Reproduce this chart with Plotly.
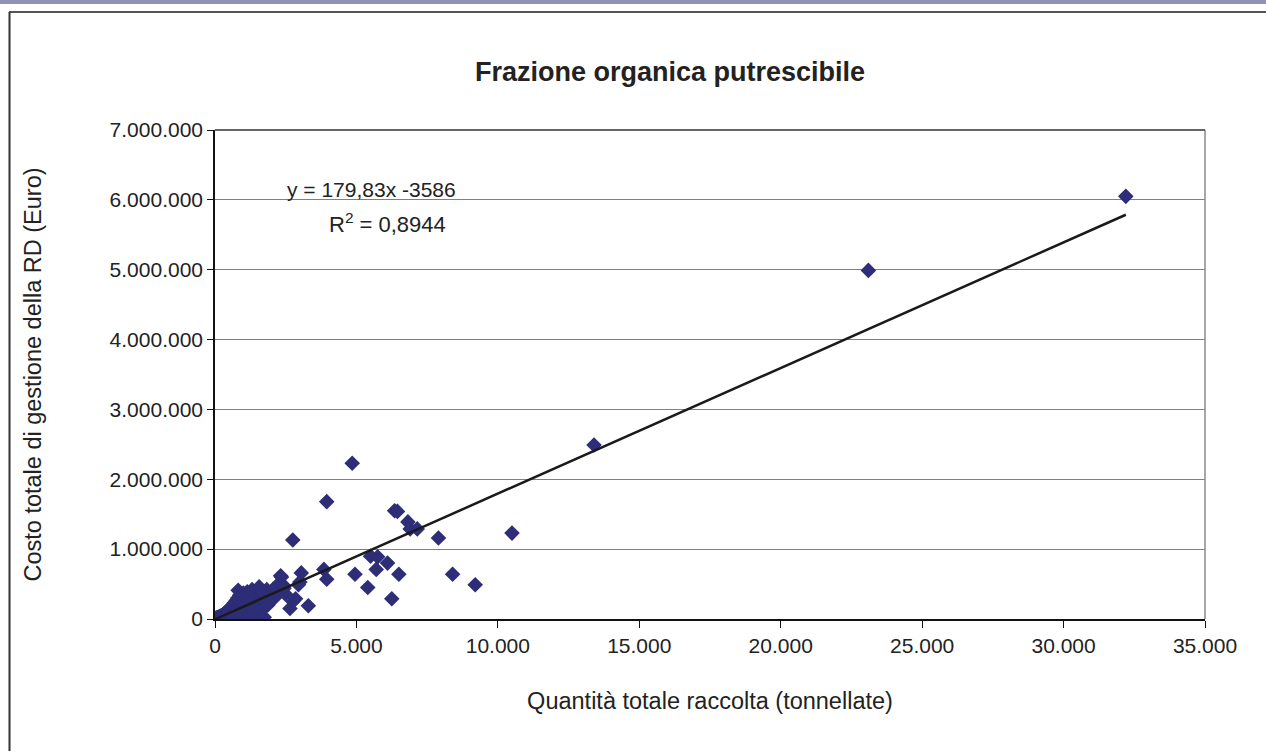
import plotly.graph_objects as go

# Raccolta della frazione organica: quantità (t) e costo totale di gestione (Euro)
tonnellate = [
    32200, 23100, 13400, 10500, 7900, 4850, 3950, 6350, 6450, 6820, 6900, 7150,
    2750, 5500, 5750, 6100, 5700, 4950, 6500, 8400, 5400, 9200, 6250, 3850,
    3950, 3050, 3000, 3300, 2750, 2650, 2350, 2850, 2300, 2950,
    15, 25, 30, 40, 45, 55, 65, 70, 85, 95, 105, 115, 130, 140, 155, 165, 180,
    195, 205, 220, 235, 250, 260, 275, 290, 305, 320, 335, 350, 365, 380, 395,
    410, 425, 440, 455, 470, 485, 500, 515, 530, 545, 560, 580, 595, 610, 630,
    650, 665, 680, 700, 715, 730, 750, 770, 785, 805, 820, 835, 850, 870, 885,
    900, 920, 940, 960, 980, 1000, 1020, 1040, 1060, 1080, 1100, 1120, 1140,
    1160, 1185, 1210, 1235, 1260, 1285, 1310, 1335, 1360, 1390, 1410, 1440,
    1470, 1500, 1530, 1560, 1590, 1620, 1650, 1680, 1710, 1740, 1770, 1800,
    1830, 1870, 1900, 1940, 1980, 2020, 2060, 2100, 2150, 2200, 2240, 2290,
    2320, 2400, 2440, 2480,
]
costo_euro = [
    6050000, 4990000, 2490000, 1230000, 1160000, 2230000, 1680000, 1550000,
    1540000, 1390000, 1290000, 1290000, 1130000, 900000, 890000, 800000,
    710000, 640000, 640000, 640000, 450000, 490000, 290000, 710000, 570000,
    660000, 530000, 190000, 250000, 150000, 600000, 290000, 400000, 490000,
    4000, 9000, 1500, 11000, 2500, 7000, 16000, 4000, 13000, 22000, 6000,
    18000, 27000, 9000, 33000, 21000, 12000, 41000, 30000, 16000, 50000, 36000,
    9000, 58000, 42000, 20000, 74000, 55000, 30000, 90000, 64000, 14000,
    105000, 80000, 45000, 130000, 95000, 25000, 115000, 150000, 70000, 10000,
    135000, 175000, 100000, 40000, 195000, 150000, 85000, 230000, 170000,
    20000, 120000, 265000, 200000, 60000, 300000, 410000, 235000, 150000,
    340000, 30000, 260000, 190000, 310000, 100000, 240000, 370000, 170000,
    280000, 50000, 330000, 210000, 130000, 390000, 260000, 180000, 310000,
    80000, 350000, 230000, 420000, 150000, 290000, 40000, 370000, 250000,
    320000, 180000, 430000, 460000, 270000, 350000, 120000, 300000, 390000,
    25000, 250000, 340000, 420000, 200000, 300000, 380000, 260000, 340000,
    430000, 300000, 380000, 470000, 410000, 520000, 620000, 490000, 440000,
    360000,
]

# Retta di regressione lineare
pendenza = 179.83
intercetta = -3586
r_quadro = 0.8944

x_ticks = [0, 5000, 10000, 15000, 20000, 25000, 30000, 35000]
y_ticks = [0, 1000000, 2000000, 3000000, 4000000, 5000000, 6000000, 7000000]

FONT = "Liberation Sans, Arial, sans-serif"
W, H = 1266, 751
L, R, T, B = 215, 61, 130, 132
PW, PH = W - L - R, H - T - B


def px(x):
    return (x - L) / PW


def py(y):
    return (H - B - y) / PH


fig = go.Figure()

fig.add_trace(go.Scatter(
    x=tonnellate, y=costo_euro, mode="markers",
    marker=dict(symbol="diamond", size=12, color="#2d2d78", line=dict(width=0)),
    showlegend=False, hoverinfo="x+y",
))

x_fit = [min(tonnellate), max(tonnellate)]
y_fit = [pendenza * v + intercetta for v in x_fit]
fig.add_trace(go.Scatter(
    x=x_fit, y=y_fit, mode="lines",
    line=dict(color="#1a1a1a", width=2.5),
    showlegend=False, hoverinfo="skip",
))

fig.update_layout(
    width=W, height=H,
    margin=dict(l=L, r=R, t=T, b=B),
    paper_bgcolor="white", plot_bgcolor="white",
    separators=",.",
    font=dict(family=FONT, size=21, color="#222222"),
    title=dict(
        text="<b>Frazione organica putrescibile</b>",
        font=dict(family=FONT, size=27, color="#222222"),
        x=670 / W, xanchor="center", xref="container",
        y=1 - 72 / H, yanchor="middle", yref="container",
    ),
    xaxis=dict(
        range=[0, 35000], tickvals=x_ticks, tickformat=",d",
        showgrid=False, zeroline=False,
        showline=True, linecolor="#111111", linewidth=1.5,
        ticks="outside", ticklen=7, tickcolor="#111111",
        tickfont=dict(size=21, color="#222222"),
        title=dict(text="Quantità totale raccolta (tonnellate)",
                   font=dict(size=23.5, color="#222222"), standoff=37),
    ),
    yaxis=dict(
        range=[0, 7000000], tickvals=y_ticks, tickformat=",d",
        showgrid=True, gridcolor="#808080", gridwidth=1,
        zeroline=False,
        showline=True, linecolor="#111111", linewidth=1.5,
        ticks="outside", ticklen=6, tickcolor="#111111",
        tickfont=dict(size=21, color="#222222"),
        title=dict(text="Costo totale di gestione della RD (Euro)",
                   font=dict(size=23.5, color="#222222"), standoff=61),
    ),
    shapes=[
        # fascia superiore
        dict(type="rect", xref="paper", yref="paper",
             x0=px(0), x1=px(W), y0=py(4), y1=py(0),
             fillcolor="#9191b6", line=dict(width=0), layer="below"),
        # cornice del grafico
        dict(type="line", xref="paper", yref="paper",
             x0=px(9), x1=px(W), y0=py(12), y1=py(12),
             line=dict(color="#555555", width=2)),
        dict(type="line", xref="paper", yref="paper",
             x0=px(9.5), x1=px(9.5), y0=py(12), y1=py(H),
             line=dict(color="#333333", width=2)),
        # bordo dell'area del tracciato
        dict(type="line", xref="paper", yref="paper",
             x0=1, x1=1, y0=0, y1=1,
             line=dict(color="#8a8a8a", width=1.5)),
        dict(type="line", xref="paper", yref="paper",
             x0=0, x1=1, y0=1, y1=1,
             line=dict(color="#333333", width=1.5)),
    ],
    annotations=[
        dict(text="y = 179,83x -3586", xref="paper", yref="paper",
             x=px(285), y=py(190), xanchor="left", yanchor="middle",
             showarrow=False, font=dict(size=21, color="#222222")),
        dict(text="R<sup>2</sup> = 0,8944", xref="paper", yref="paper",
             x=px(327), y=py(223), xanchor="left", yanchor="middle",
             showarrow=False, font=dict(size=22, color="#222222")),
    ],
)

fig.write_html("out.html")
